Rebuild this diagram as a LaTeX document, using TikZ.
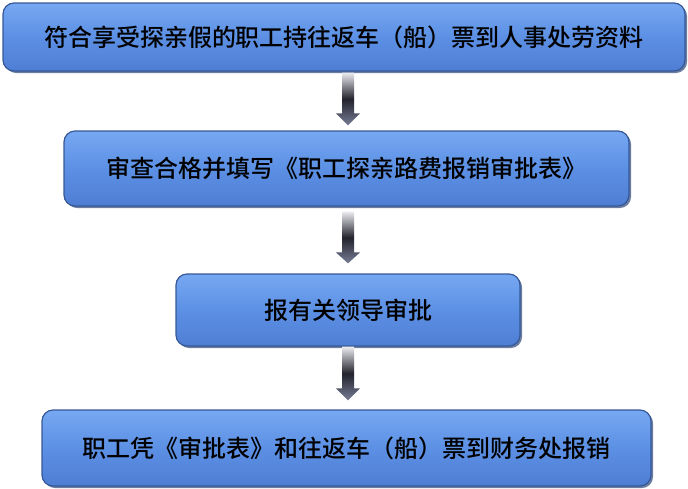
\documentclass[tikz,border=0pt]{standalone}
\usepackage{fontspec}
\newfontfamily\cjk{Noto Sans CJK SC Medium}
\usetikzlibrary{calc,shadows}
\definecolor{boxtop}{RGB}{118,168,242}
\definecolor{boxmid}{RGB}{92,144,228}
\definecolor{boxbot}{RGB}{78,126,212}
\definecolor{boxedge}{RGB}{55,88,150}
\definecolor{arrlight}{RGB}{235,235,240}
\definecolor{arrdark}{RGB}{35,35,45}
\definecolor{arrgrey}{RGB}{120,125,150}
\tikzset{
  stepbox/.style={rounded corners=11pt, draw=boxedge, line width=1.2pt,
    top color=boxtop, bottom color=boxbot, middle color=boxmid,
    drop shadow={shadow xshift=2pt, shadow yshift=-2pt, fill=boxedge!80!black, opacity=0.7},
    inner sep=0pt, font=\cjk\fontsize{24}{24}\selectfont, text=black},
  flowarrow/.style={top color=arrlight, bottom color=arrgrey, middle color=arrdark, draw=none}
}
\begin{document}
\begin{tikzpicture}[x=1pt,y=-1pt]
\useasboundingbox (0,0) rectangle (688,488);
\node[stepbox, minimum width=682pt, minimum height=68pt] (b1) at (344,37) {符合享受探亲假的职工持往返车（船）票到人事处劳资料};
\node[stepbox, minimum width=565pt, minimum height=75pt] (b2) at (346.5,168.5) {审查合格并填写《职工探亲路费报销审批表》};
\node[stepbox, minimum width=344pt, minimum height=72pt] (b3) at (348,310) {报有关领导审批};
\node[stepbox, minimum width=609pt, minimum height=76pt] (b4) at (346.5,448) {职工凭《审批表》和往返车（船）票到财务处报销};
\coordinate (ax) at (348,0);
% arrow 1
\shade[flowarrow] ($(b1.south -| ax)+(-6,1)$) -- ($(b1.south -| ax)+(6,1)$)
  -- ($(b2.north -| ax)+(6,-17)$) -- ($(b2.north -| ax)+(12,-17)$)
  -- ($(b2.north -| ax)+(0,-5)$) -- ($(b2.north -| ax)+(-12,-17)$)
  -- ($(b2.north -| ax)+(-6,-17)$) -- cycle;
% arrow 2
\shade[flowarrow] ($(b2.south -| ax)+(-6,5)$) -- ($(b2.south -| ax)+(6,5)$)
  -- ($(b3.north -| ax)+(6,-21)$) -- ($(b3.north -| ax)+(12,-21)$)
  -- ($(b3.north -| ax)+(0,-10)$) -- ($(b3.north -| ax)+(-12,-21)$)
  -- ($(b3.north -| ax)+(-6,-21)$) -- cycle;
% arrow 3
\shade[flowarrow] ($(b3.south -| ax)+(-6,0)$) -- ($(b3.south -| ax)+(6,0)$)
  -- ($(b4.north -| ax)+(6,-21)$) -- ($(b4.north -| ax)+(12,-21)$)
  -- ($(b4.north -| ax)+(0,-9)$) -- ($(b4.north -| ax)+(-12,-21)$)
  -- ($(b4.north -| ax)+(-6,-21)$) -- cycle;
\end{tikzpicture}
\end{document}
